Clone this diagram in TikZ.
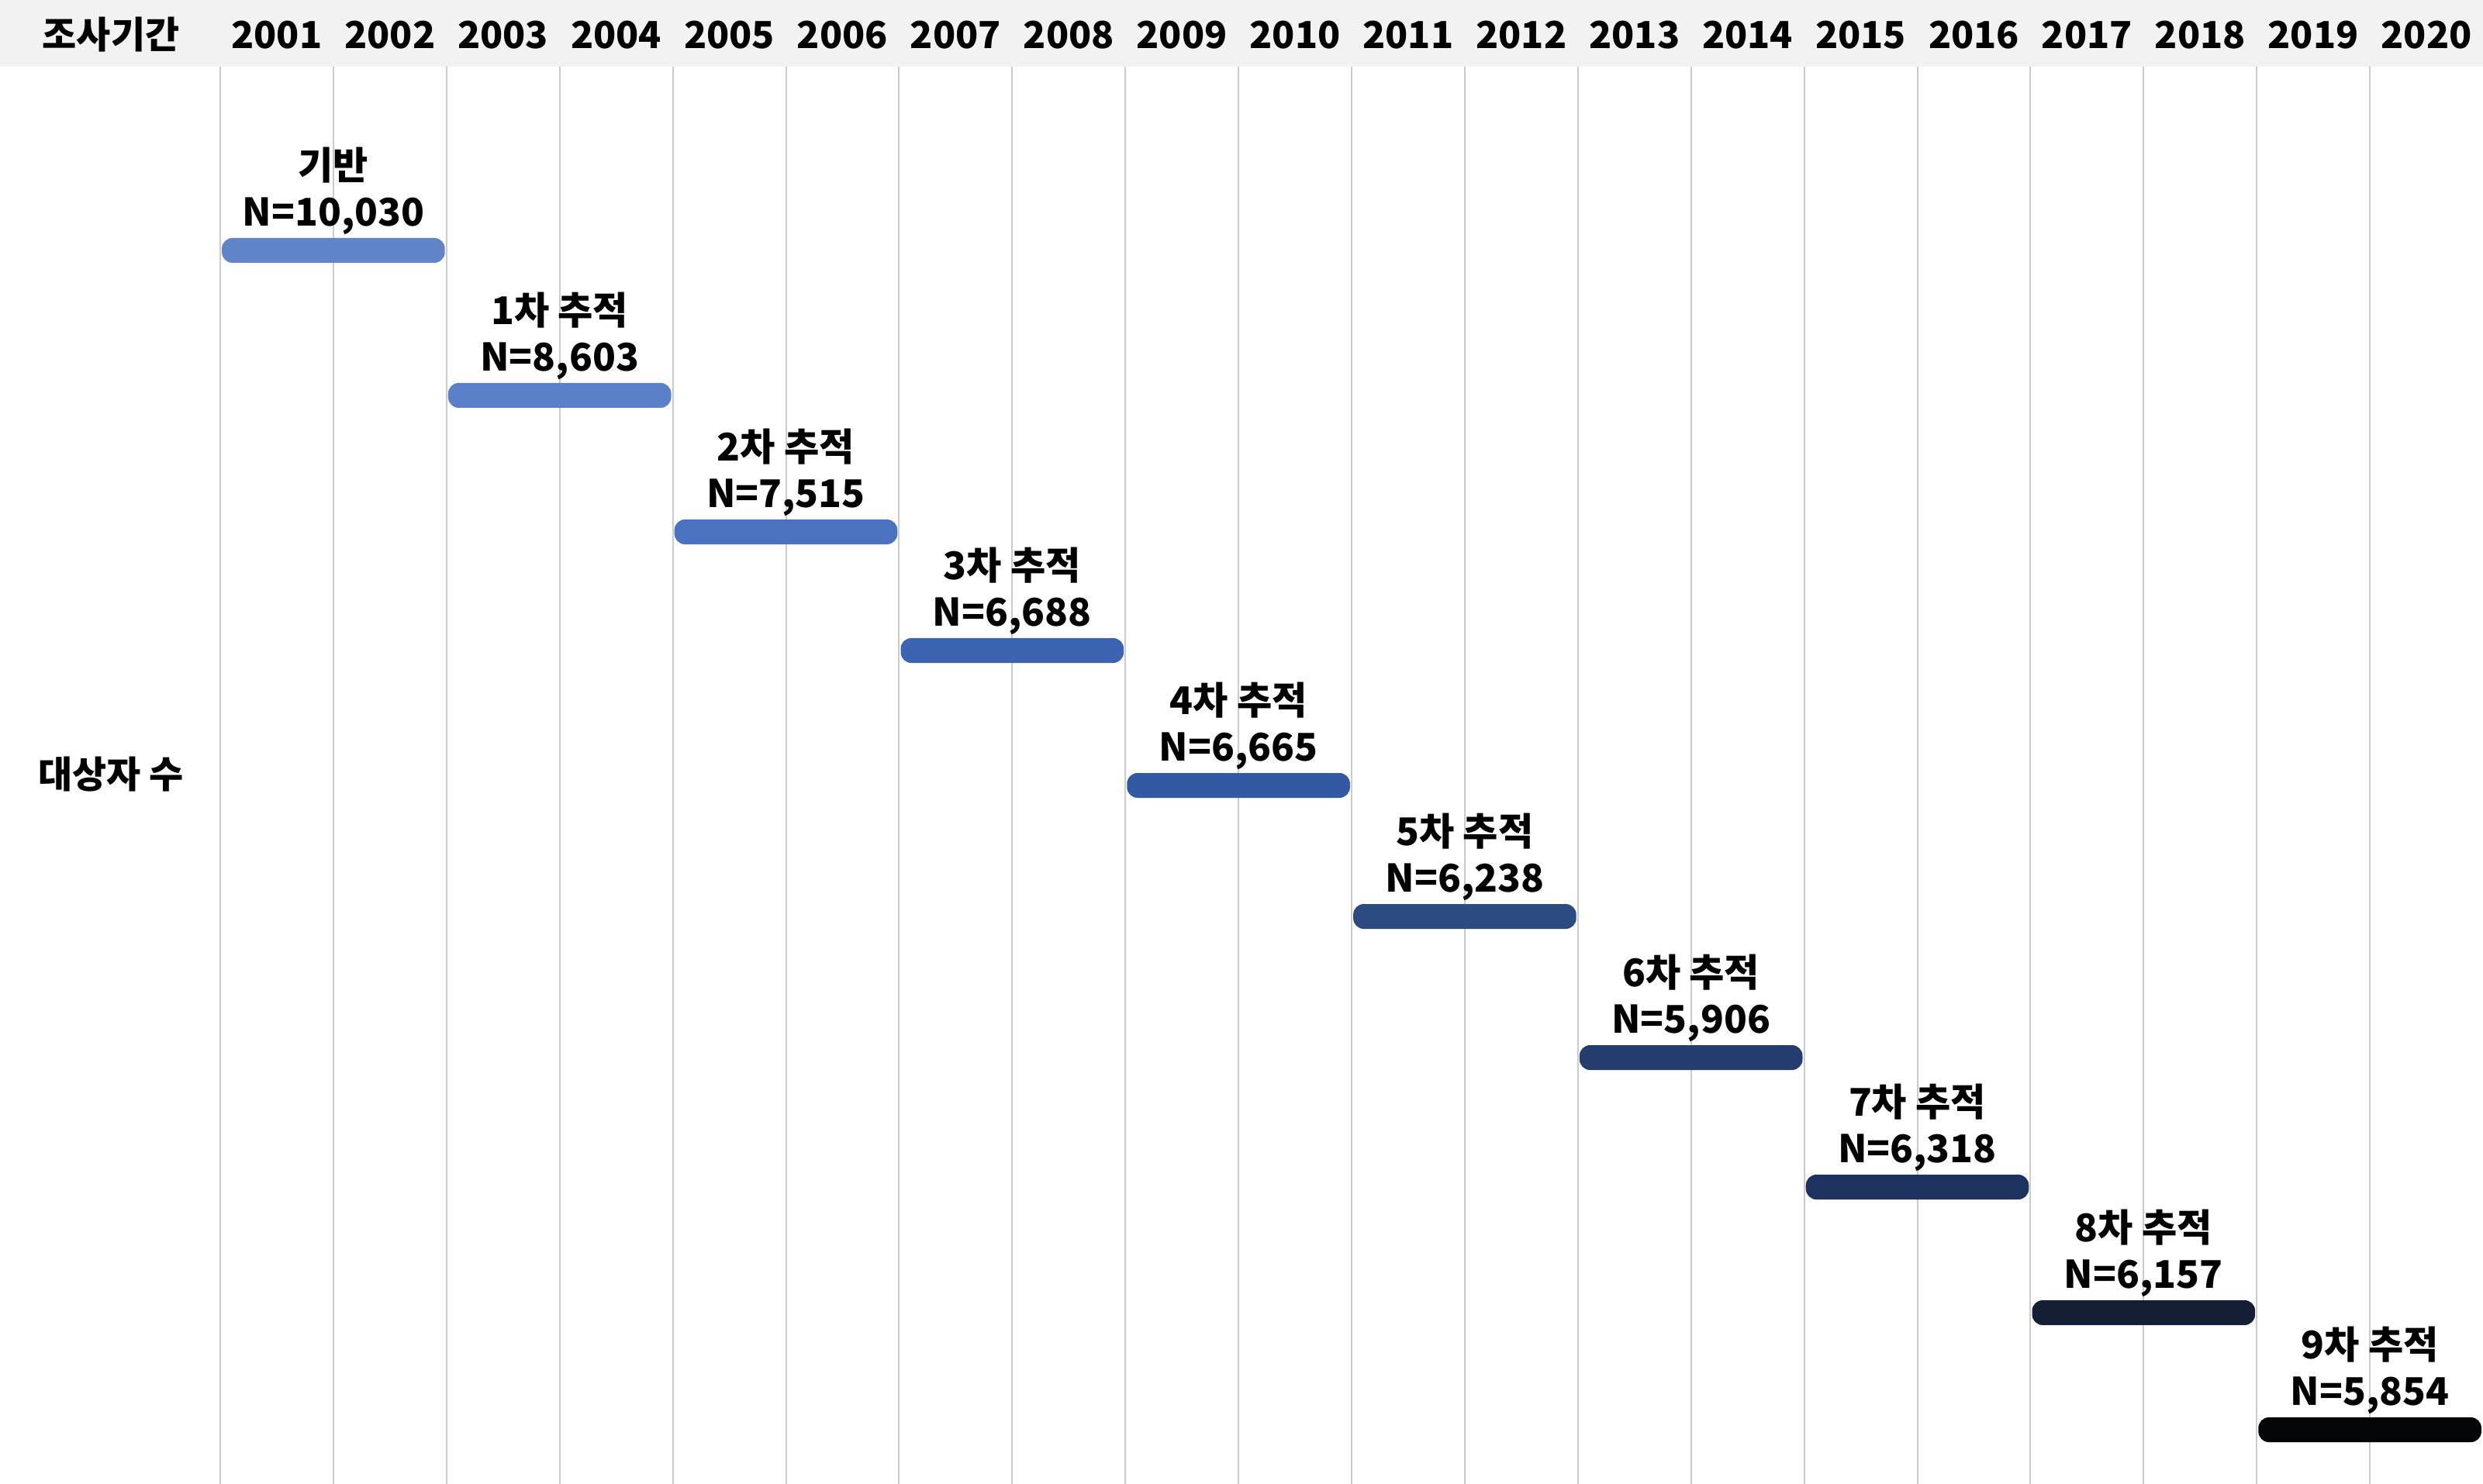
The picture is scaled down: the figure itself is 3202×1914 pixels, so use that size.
\documentclass[tikz,border=0pt]{standalone}
\usepackage{fontspec}
\setmainfont{Noto Sans CJK KR}
\definecolor{hdr}{HTML}{F2F2F2}
\definecolor{grid}{HTML}{CBCBCB}
\definecolor{c0}{HTML}{6285C9}
\definecolor{c1}{HTML}{5A80CA}
\definecolor{c2}{HTML}{4A72C0}
\definecolor{c3}{HTML}{3D64B2}
\definecolor{c4}{HTML}{3459A3}
\definecolor{c5}{HTML}{2B4A80}
\definecolor{c6}{HTML}{243D6E}
\definecolor{c7}{HTML}{1E3260}
\definecolor{c8}{HTML}{141F36}
\definecolor{c9}{HTML}{050608}
\tikzset{
  txt/.style={font=\fontsize{12}{14}\selectfont\bfseries, inner sep=0pt},
  lbl/.style={font=\fontsize{12.3}{15}\selectfont\bfseries, inner sep=0pt, align=center},
  barbox/.style={draw=none, rounded corners=3.4pt, minimum height=8pt, minimum width=71.9pt, inner sep=0pt},
  gridline/.style={draw=grid, line width=0.5pt}
}
\begin{document}
\begin{tikzpicture}[x=0.25pt,y=-0.25pt]
\useasboundingbox (0,0) rectangle (3202,1914);
\fill[hdr] (0,0) rectangle (3202,86);
% grid lines
\foreach \i in {0,...,19} {
  \draw[gridline] ({284+\i*145.9},86) -- ({284+\i*145.9},1914);
}
% header texts
\node[txt] (hd) at (143,45) {조사기간};
\foreach \i [evaluate=\i as \yr using int(2001+\i)] in {0,...,19} {
  \node[txt] (y\i) at ({284+(\i+0.5)*145.9},45) {\yr};
}
\node[txt] (rowlbl) at (143,999) {대상자 수};
% bars and labels
\foreach \i/\yc/\col/\name/\n in {
  0/323/c0/기반/{10,030},
  1/510/c1/1차 추적/{8,603},
  2/686/c2/2차 추적/{7,515},
  3/839/c3/3차 추적/{6,688},
  4/1013/c4/4차 추적/{6,665},
  5/1182/c5/5차 추적/{6,238},
  6/1364/c6/6차 추적/{5,906},
  7/1531/c7/7차 추적/{6,318},
  8/1693/c8/8차 추적/{6,157},
  9/1844/c9/9차 추적/{5,854}} {
  \node[barbox, fill=\col] (b\i) at ({284+(2*\i+1)*145.9},\yc) {};
  \node[lbl] (t\i) at ({284+(2*\i+1)*145.9},\yc-77) {\name\\N=\n};
}
\end{tikzpicture}
\end{document}
